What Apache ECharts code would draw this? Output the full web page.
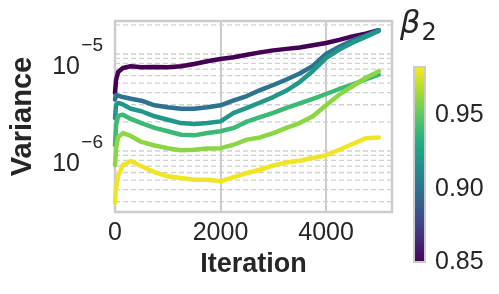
<!DOCTYPE html>
<html><head><meta charset="utf-8">
<script src="https://cdn.jsdelivr.net/npm/echarts@6/dist/echarts.min.js"></script>
<style>html,body{margin:0;padding:0;background:#fff}#c{width:499px;height:294px}</style>
</head><body><div id="c"></div>
<script>
// ---- data ----
const iterations = [0, 20, 60, 150, 300, 500, 750, 1000, 1250, 1500, 1750, 2000, 2250, 2500, 2750, 3000, 3250, 3500, 3750, 4000, 4250, 4500, 4750, 5000];
const betas = [0.85, 0.90, 0.92, 0.94, 0.96, 0.98];
const var_b085 = [3.96e-6, 5.40e-6, 6.52e-6, 7.17e-6, 7.47e-6, 7.29e-6, 7.35e-6, 7.29e-6, 7.47e-6, 7.89e-6, 8.41e-6, 8.88e-6, 9.25e-6, 9.83e-6, 1.04e-5, 1.09e-5, 1.13e-5, 1.17e-5, 1.23e-5, 1.30e-5, 1.40e-5, 1.52e-5, 1.62e-5, 1.76e-5];
const var_b090 = [3.40e-6, 3.78e-6, 3.73e-6, 3.60e-6, 3.46e-6, 3.30e-6, 2.96e-6, 2.82e-6, 2.73e-6, 2.73e-6, 2.82e-6, 2.96e-6, 3.32e-6, 3.69e-6, 4.25e-6, 4.79e-6, 5.46e-6, 6.30e-6, 7.52e-6, 1.00e-5, 1.19e-5, 1.38e-5, 1.55e-5, 1.75e-5];
const var_b092 = [2.19e-6, 2.98e-6, 3.13e-6, 3.02e-6, 2.73e-6, 2.57e-6, 2.28e-6, 2.10e-6, 1.94e-6, 1.90e-6, 1.94e-6, 2.02e-6, 2.47e-6, 2.78e-6, 3.16e-6, 3.60e-6, 4.20e-6, 5.14e-6, 6.68e-6, 9.09e-6, 1.11e-5, 1.31e-5, 1.50e-5, 1.73e-5];
const var_b094 = [1.15e-6, 1.85e-6, 2.30e-6, 2.37e-6, 2.14e-6, 1.94e-6, 1.73e-6, 1.60e-6, 1.47e-6, 1.45e-6, 1.53e-6, 1.60e-6, 1.73e-6, 2.01e-6, 2.23e-6, 2.47e-6, 2.78e-6, 3.09e-6, 3.44e-6, 3.87e-6, 4.36e-6, 4.83e-6, 5.46e-6, 6.12e-6];
const var_b096 = [7.17e-7, 1.07e-6, 1.39e-6, 1.53e-6, 1.43e-6, 1.24e-6, 1.14e-6, 1.07e-6, 1.02e-6, 1.03e-6, 1.06e-6, 1.07e-6, 1.16e-6, 1.31e-6, 1.38e-6, 1.53e-6, 1.73e-6, 1.94e-6, 2.28e-6, 2.96e-6, 3.81e-6, 4.65e-6, 5.66e-6, 6.63e-6];
const var_b098 = [2.91e-7, 4.16e-7, 5.53e-7, 7.17e-7, 7.89e-7, 6.96e-7, 6.07e-7, 5.48e-7, 5.27e-7, 5.06e-7, 5.06e-7, 4.87e-7, 5.39e-7, 5.93e-7, 6.41e-7, 7.09e-7, 7.61e-7, 7.94e-7, 8.47e-7, 9.03e-7, 1.03e-6, 1.18e-6, 1.35e-6, 1.38e-6];
const seriesValues = [var_b085, var_b090, var_b092, var_b094, var_b096, var_b098];
const xTickLabels = [0, 2000, 4000];
const cbarTickLabels = [0.85, 0.90, 0.95];
const minorGridValues = [3e-7, 4e-7, 5e-7, 6e-7, 7e-7, 8e-7, 9e-7, 1e-6, 2e-6, 3e-6, 4e-6, 5e-6, 6e-6, 7e-6, 8e-6, 9e-6, 1e-5, 2e-5];
const yRange = [2.35e-7, 2.19e-5];
const xRange = [0, 5250];
const cbarRange = [0.85, 0.983];

// ---- style helpers ----
const viridis = ['#440154','#482475','#414487','#355f8d','#2a788e','#21918c','#22a884','#44bf70','#7ad151','#bddf26','#fde725'];
function hex2rgb(h){return [parseInt(h.slice(1,3),16),parseInt(h.slice(3,5),16),parseInt(h.slice(5,7),16)];}
function viridisAt(t){
  t=Math.max(0,Math.min(1,t));
  const p=t*(viridis.length-1), i=Math.min(Math.floor(p),viridis.length-2), f=p-i;
  const a=hex2rgb(viridis[i]), b=hex2rgb(viridis[i+1]);
  return 'rgb('+a.map((v,k)=>Math.round(v+(b[k]-v)*f)).join(',')+')';
}
const FONT='Liberation Sans';
const TXT='#262626';
const GRIDC='#cccccc';

const lineSeries = seriesValues.map((vals,i)=>({
  type:'line', name:String(betas[i]), xAxisIndex:0, yAxisIndex:0,
  data: iterations.map((it,j)=>[it, vals[j]]),
  showSymbol:false, symbol:'none', smooth:false, z:3+i,
  lineStyle:{color:viridisAt((betas[i]-cbarRange[0])/(cbarRange[1]-cbarRange[0])), width:4.5, cap:'round', join:'round'},
  animation:false
}));

// dashed horizontal grid lines at 1..9 x 10^k, drawn through the log axis
const gridSeries = minorGridValues.map(v=>({
  type:'line', xAxisIndex:0, yAxisIndex:0, data:[[xRange[0], v],[xRange[1], v]], z:1, silent:true, animation:false,
  symbol:'none', showSymbol:false, lineStyle:{color:'#d0d0d0', type:[5,3], width:1.3}
}));

const cbarStops = viridis.map((c,i)=>({offset:i/(viridis.length-1), color:c}));

const option = {
  backgroundColor:'#ffffff',
  animation:false,
  title:{
    text:'{b|β}{s|2}', left:395, top:4,
    textStyle:{fontWeight:'normal', rich:{
      b:{fontFamily:'DejaVu Sans', fontStyle:'italic', fontWeight:'normal', fontSize:32, color:TXT, lineHeight:34, verticalAlign:'top'},
      s:{fontFamily:'DejaVu Sans', fontWeight:'normal', fontSize:24, color:TXT, lineHeight:24, padding:[13,0,0,1], verticalAlign:'top'}
    }}
  },
  grid:[
    {left:112, right:107, top:21, bottom:82, show:true, borderColor:GRIDC, borderWidth:2.5},
    {left:414, width:11, top:67, height:195, show:true, borderColor:GRIDC, borderWidth:2,
      backgroundColor:{type:'linear', x:0, y:1, x2:0, y2:0, colorStops:cbarStops}}
  ],
  xAxis:[
    {type:'value', gridIndex:0, min:xRange[0], max:xRange[1], interval:2000,
      name:'Iteration', nameLocation:'middle', nameGap:36,
      nameTextStyle:{fontFamily:FONT, fontWeight:'bold', fontSize:27, color:TXT},
      axisLine:{show:false}, axisTick:{show:false},
      axisLabel:{fontFamily:FONT, fontSize:25, color:TXT, margin:9, showMaxLabel:false,
        formatter:v=> xTickLabels.includes(v)? String(v):''},
      splitLine:{show:true, lineStyle:{color:GRIDC, width:2}}},
    {type:'value', gridIndex:1, show:false, min:0, max:1}
  ],
  yAxis:[
    {type:'log', logBase:10, gridIndex:0, min:yRange[0], max:yRange[1],
      name:'Variance', nameLocation:'middle', nameGap:78,
      nameTextStyle:{fontFamily:FONT, fontWeight:'bold', fontSize:29, color:TXT},
      axisLine:{show:false}, axisTick:{show:false}, splitLine:{show:false},
      axisLabel:{fontFamily:FONT, color:TXT, margin:12, showMinLabel:false, showMaxLabel:false,
        formatter:v=>{const e=Math.log10(v); const r=Math.round(e); if(Math.abs(e-r)>0.01) return ''; return '{s|'+(r<0?'\u2212':'')+Math.abs(r)+'}\n{b|10}';},
        rich:{
          s:{fontFamily:FONT, fontSize:19, color:TXT, lineHeight:26, align:'right'},
          b:{fontFamily:FONT, fontSize:25, color:TXT, lineHeight:16, align:'right', padding:[0,23,0,0]}
        }}},
    {type:'value', gridIndex:1, min:cbarRange[0], max:cbarRange[1], interval:0.05, position:'right',
      axisLine:{show:false}, axisTick:{show:false}, splitLine:{show:false},
      axisLabel:{fontFamily:FONT, fontSize:25, color:TXT, margin:10, showMaxLabel:false,
        formatter:v=>{const m=cbarTickLabels.find(t=>Math.abs(t-v)<1e-6); return m===undefined?'':m.toFixed(2);}}}
  ],
  series:gridSeries.concat(lineSeries)
};
const chart = echarts.init(document.getElementById('c'), null, {renderer:'canvas'});
chart.setOption(option);
</script></body></html>
